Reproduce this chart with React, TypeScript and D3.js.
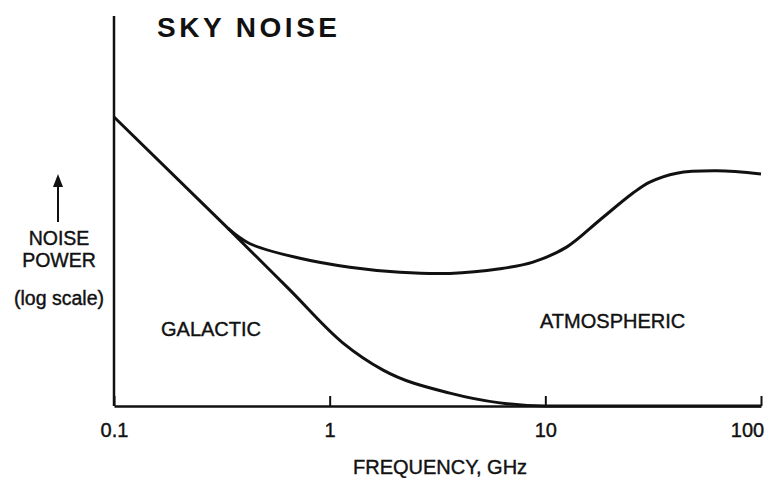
import React, { useEffect, useRef } from 'react';
import * as d3 from 'd3';

// frequency in GHz, relative noise power (log scale, arbitrary units 0-100)
const galacticFreq = [0.1, 0.337, 0.655, 1.15, 1.77, 3.61, 6.16, 10, 30, 100];
const galacticPower = [74.1, 45.6, 29.7, 16.2, 9.2, 3.3, 0.8, 0, 0, 0];

const skyFreq = [0.337, 0.427, 0.728, 1.24, 2.12, 3.61, 6.16, 8.77, 12.6, 17.9, 25.5, 30.5, 40.7, 62.5, 100];
const skyPower = [45.6, 41.6, 37.9, 35.6, 34.3, 34.0, 35.2, 36.9, 40.8, 47.7, 54.6, 57.4, 59.7, 60.3, 59.5];

const tickValues = [0.1, 1, 10, 100];
const tickLabels = ['0.1', '1', '10', '100'];

const FONT = '"Liberation Sans", Arial, Helvetica, sans-serif';
const INK = '#111';

function SkyNoiseChart() {
  const chartRef = useRef<SVGSVGElement>(null);

  useEffect(() => {
    const svg = d3.select(chartRef.current);
    svg.selectAll('*').remove();

    const x = d3.scaleLog().domain([0.1, 100]).range([114, 761]);
    const y = d3.scaleLinear().domain([0, 100]).range([406, 16]);

    // y axis is just a bare line
    svg.append('line')
      .attr('x1', x(0.1)).attr('x2', x(0.1))
      .attr('y1', y(100)).attr('y2', y(0))
      .attr('stroke', INK)
      .attr('stroke-width', 2.5);

    // x axis with upward ticks
    const xAxis = svg.append('g')
      .attr('transform', `translate(0,${y(0)})`)
      .call(
        d3.axisBottom(x)
          .tickValues(tickValues)
          .tickFormat((d, i) => tickLabels[i])
          .tickSize(-10)
          .tickSizeOuter(0)
          .tickPadding(17)
      );
    xAxis.select('.domain').attr('stroke', INK).attr('stroke-width', 2.5);
    xAxis.selectAll('.tick line').attr('stroke', INK).attr('stroke-width', 2);
    xAxis.selectAll('.tick text')
      .attr('fill', INK)
      .attr('stroke', INK)
      .attr('stroke-width', 0.4)
      .style('font-family', FONT)
      .style('font-size', '20px');
    xAxis.selectAll('.tick text').filter((d) => d === 100).attr('x', -14);

    const galacticLine = d3.line<[number, number]>()
      .x(d => x(d[0]))
      .y(d => y(d[1]))
      .curve(d3.curveMonotoneX);
    const skyLine = d3.line<[number, number]>()
      .x(d => x(d[0]))
      .y(d => y(d[1]))
      .curve(d3.curveCatmullRom.alpha(0.5));

    const galactic = galacticFreq.map((f, i) => [f, galacticPower[i]] as [number, number]);
    const sky = skyFreq.map((f, i) => [f, skyPower[i]] as [number, number]);

    svg.append('path')
      .datum(galactic)
      .attr('fill', 'none')
      .attr('stroke', INK)
      .attr('stroke-width', 3)
      .attr('stroke-linejoin', 'round')
      .attr('d', galacticLine);
    svg.append('path')
      .datum(sky)
      .attr('fill', 'none')
      .attr('stroke', INK)
      .attr('stroke-width', 3)
      .attr('stroke-linejoin', 'round')
      .attr('d', skyLine);

    // title
    svg.append('text')
      .attr('x', 157).attr('y', 37)
      .attr('fill', INK)
      .style('font-family', FONT)
      .style('font-weight', 'bold')
      .style('font-size', '28px')
      .style('letter-spacing', '3.5px')
      .text('SKY NOISE');

    const addLabel = (t: string, xx: number, yy: number, size: number, anchor = 'start') =>
      svg.append('text')
        .attr('x', xx).attr('y', yy)
        .attr('text-anchor', anchor)
        .attr('fill', INK)
        .attr('stroke', INK)
        .attr('stroke-width', 0.4)
        .style('font-family', FONT)
        .style('font-size', `${size}px`)
        .text(t);

    // y label with arrow
    const arrowX = 58;
    svg.append('line')
      .attr('x1', arrowX).attr('x2', arrowX)
      .attr('y1', 222).attr('y2', 184)
      .attr('stroke', INK)
      .attr('stroke-width', 2);
    svg.append('path')
      .attr('d', `M${arrowX},174 L${arrowX - 5},187 L${arrowX + 5},187 Z`)
      .attr('fill', INK);

    addLabel('NOISE', arrowX + 1, 245, 19.5, 'middle');
    addLabel('POWER', arrowX + 1, 267, 19.5, 'middle');
    addLabel('(log scale)', arrowX + 1, 305, 19.5, 'middle');

    // region labels
    addLabel('GALACTIC', 161, 336, 20);
    addLabel('ATMOSPHERIC', 540, 328, 20);

    // x axis title
    addLabel('FREQUENCY, GHz', 353, 474, 20);
  }, []);

  return (
    <svg
      ref={chartRef}
      width="768"
      height="478"
      style={{ position: 'absolute', left: 0, top: 0, background: '#fff' }}
    ></svg>
  );
}

export default function App() {
  return <SkyNoiseChart />;
}
